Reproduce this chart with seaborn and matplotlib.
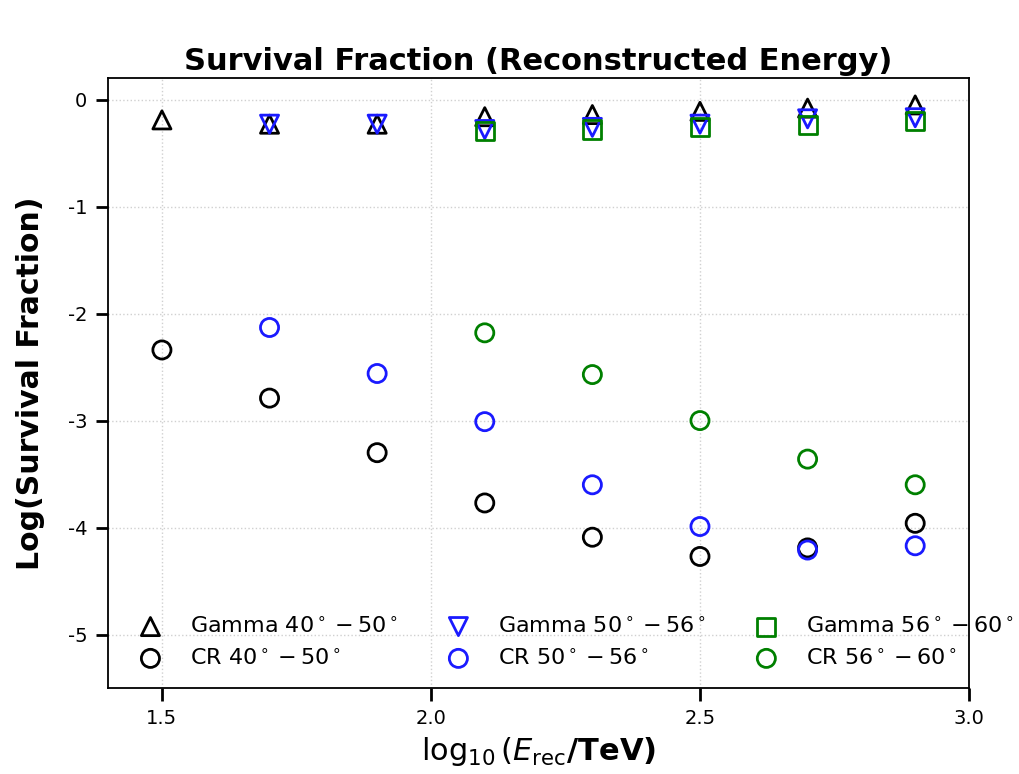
import matplotlib
matplotlib.use('Agg')
import matplotlib.pyplot as plt
import seaborn as sns
import numpy as np

# log10(E_rec / TeV) bin centres
energy = [1.5, 1.7, 1.9, 2.1, 2.3, 2.5, 2.7, 2.9]

# log survival fractions, gamma
gamma_40_50 = [-0.19, -0.23, -0.23, -0.16, -0.14, -0.11, -0.08, -0.05]
gamma_50_56 = [-0.23, -0.23, -0.28, -0.26, -0.23, -0.18, -0.17]
gamma_56_60 = [-0.29, -0.28, -0.26, -0.24, -0.20]

# log survival fractions, cosmic rays
cr_40_50 = [-2.34, -2.79, -3.30, -3.77, -4.09, -4.27, -4.19, -3.96]
cr_50_56 = [-2.13, -2.56, -3.01, -3.60, -3.99, -4.21, -4.17]
cr_56_60 = [-2.18, -2.57, -3.00, -3.36, -3.60]

series = [
    ('Gamma $40^\\circ-50^\\circ$', energy, gamma_40_50, '^', 'black'),
    ('CR $40^\\circ-50^\\circ$', energy, cr_40_50, 'o', 'black'),
    ('Gamma $50^\\circ-56^\\circ$', energy[1:], gamma_50_56, 'v', '#1a1aff'),
    ('CR $50^\\circ-56^\\circ$', energy[1:], cr_50_56, 'o', '#1a1aff'),
    ('Gamma $56^\\circ-60^\\circ$', energy[3:], gamma_56_60, 's', 'green'),
    ('CR $56^\\circ-60^\\circ$', energy[3:], cr_56_60, 'o', 'green'),
]

sns.set_style('ticks')
plt.rcParams.update({'text.color': 'black', 'axes.labelcolor': 'black',
                     'xtick.color': 'black', 'ytick.color': 'black',
                     'axes.unicode_minus': False})
fig, ax = plt.subplots(figsize=(10.2, 7.74), dpi=100)
fig.subplots_adjust(left=0.106, right=0.95, top=0.899, bottom=0.111)

for label, xs, ys, mk, col in series:
    sns.scatterplot(x=xs, y=ys, marker=mk, s=170, facecolors='none',
                    edgecolors=col, linewidths=2, label=label, ax=ax)

ax.set_xlim(1.4, 3.0)
ax.set_ylim(-5.5, 0.2)
ax.set_xticks([1.5, 2.0, 2.5, 3.0])
ax.set_yticks([0, -1, -2, -3, -4, -5])
ax.grid(True, linestyle=':', color='#d0d0d0', linewidth=1)
for s in ax.spines.values():
    s.set_linewidth(1.3)
    s.set_color('black')
ax.tick_params(labelsize=14, width=2, length=9, pad=6, direction='out')

ax.set_title('Survival Fraction (Reconstructed Energy)', fontsize=22, fontweight='bold')
ax.set_ylabel('Log(Survival Fraction)', fontsize=21.5, fontweight='bold', labelpad=16)
ax.set_xlabel('$\\log_{10}(E_{\\rm rec}$/TeV)', fontsize=22, fontweight='bold', labelpad=5)

ax.legend(ncol=3, loc='lower left', bbox_to_anchor=(0.013, 0.018), frameon=False,
          fontsize=16, columnspacing=1.7, handletextpad=0.8, handlelength=2.0,
          labelspacing=0.5, borderpad=0.4, borderaxespad=0)

plt.savefig('out.png', dpi=100)
